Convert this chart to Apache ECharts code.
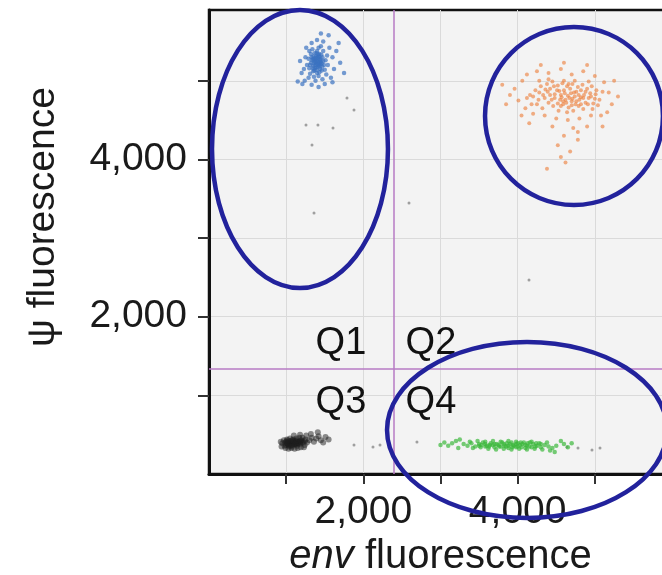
<!DOCTYPE html>
<html>
<head>
<meta charset="utf-8">
<script src="https://cdn.jsdelivr.net/npm/echarts@6/dist/echarts.min.js"></script>
<style>
  html, body { margin: 0; padding: 0; background: #fff; }
  #chart { width: 662px; height: 575px; }
</style>
</head>
<body>
<div id="chart"></div>
<script>
// droplet clusters, [env, psi]
const q1Blue = [
  [1330,5300],[1360,5260],[1390,5310],[1420,5280],[1450,5240],[1380,5200],[1410,5180],[1440,5150],[1350,5190],[1320,5230],
  [1370,5350],[1400,5380],[1430,5340],[1470,5300],[1490,5200],[1460,5130],[1400,5100],[1350,5120],[1300,5160],[1290,5280],
  [1340,5400],[1420,5420],[1480,5380],[1510,5260],[1500,5140],[1420,5060],[1360,5050],[1310,5090],[1270,5200],[1380,5270],
  [1410,5240],[1440,5210],[1370,5160],[1395,5140],[1430,5110],[1465,5180],[1335,5260],[1355,5310],[1415,5330],[1445,5280],
  [1385,5230],[1320,5340],[1300,5380],[1450,5440],[1530,5320],[1540,5200],[1520,5080],[1470,5020],[1380,5000],[1290,5040],
  [1400,5250],[1420,5200],[1380,5290],[1360,5220],[1440,5260],[1410,5300],[1390,5170],[1430,5230],[1350,5280],[1460,5220],
  [1375,5240],[1405,5210],[1425,5310],[1345,5160],[1455,5330],[1480,5250],[1310,5200],[1395,5350],[1435,5180],[1365,5130],
  [1250,5300],[1230,5150],[1260,5420],[1330,5480],[1400,5520],[1480,5500],[1560,5420],[1600,5300],[1620,5150],[1580,5040],
  [1500,4960],[1420,4920],[1330,4950],[1240,5000],[1200,5100],[1650,5380],[1700,5230],[1680,5480],[1550,5580],[1450,5600],
  [1180,5250],[1150,4990],[1600,4980],[1750,5100],[1210,4960]
];
const q2Orange = [
  [4200,4800],[4280,4850],[4350,4780],[4420,4900],[4480,4830],[4550,4760],[4600,4880],[4650,4810],[4700,4740],[4760,4860],
  [4820,4790],[4880,4720],[4940,4840],[5000,4770],[5040,4690],[4250,4700],[4320,4650],[4400,4720],[4460,4680],[4530,4620],
  [4590,4700],[4660,4660],[4720,4620],[4790,4680],[4850,4640],[4910,4700],[4970,4640],[4300,4930],[4380,4960],[4450,4990],
  [4520,4940],[4580,4970],[4640,4930],[4710,4960],[4780,4920],[4840,4950],[4900,4900],[4960,4930],[5020,4880],[4230,4880],
  [4330,4820],[4440,4760],[4510,4880],[4620,4760],[4680,4900],[4740,4800],[4800,4760],[4860,4820],[4920,4780],[4980,4710],
  [4560,4820],[4690,4840],[4750,4700],[4820,4880],[4470,4930],[4390,4860],[4270,4760],[4160,4820],[4640,4600],[4560,4680],
  [4570,4790],[4610,4840],[4670,4780],[4730,4850],[4790,4820],[4850,4780],[4710,4770],[4630,4720],[4540,4870],[4480,4780],
  [4420,4820],[4360,4890],[4880,4860],[4950,4800],[5010,4830],[4760,4740],[4820,4700],[4700,4690],[4590,4740],[4520,4710],
  [4660,4960],[4600,5000],[4740,5000],[4920,4990],[4400,5020],[4280,5000],[5060,4760],[5100,4860],[4180,4700],[4120,4780],
  [3960,4900],[4010,4750],[4060,5000],[4100,4650],[3900,4820],[3850,4700],[4120,5080],[4250,5120],[4400,5100],[4560,5150],
  [4700,5080],[4850,5120],[5000,5060],[5120,4980],[5180,4850],[5220,4700],[5160,4600],[5300,4800],[5080,4560],[4950,4560],
  [4800,4520],[4650,4500],[4500,4520],[4350,4560],[4200,4580],[4050,4560],[4600,5230],[4300,5200],[4900,5200],[5250,5000],
  [3800,4950],[4150,4460],[4450,4420],[4720,4400],[4900,4420],[4600,4300],[4780,4250],[4520,4180],[4680,4100],[4560,4030],
  [4620,3960],[4380,3880],[4780,4350],[5100,4420]
];
const q3Black = [
  [950,390],[980,360],[1000,410],[1020,380],[1040,350],[1060,400],[1080,370],[1100,420],[1120,390],[1140,360],
  [1160,410],[1180,380],[1200,430],[1220,400],[1240,370],[970,430],[1010,440],[1050,450],[1090,440],[1130,450],
  [1170,460],[1210,460],[1250,440],[990,330],[1030,320],[1070,330],[1110,320],[1150,330],[1190,340],[1230,340],
  [1270,400],[1300,430],[1330,460],[1360,410],[1390,450],[1420,480],[1450,430],[1480,400],[1510,470],[1550,440],
  [1260,490],[1180,500],[1100,490],[1320,510],[1410,530],[940,350],[930,410],[1000,370],[1060,370],[1120,420],
  [1180,410],[1050,390],[1090,390],[1130,380],[1030,410],[1150,390],
  [1040,395],[1070,385],[1100,400],[1130,400],[1060,420],[1010,395],[1090,410],[1120,375],[1150,405],[1080,430],
  [1030,370],[1110,385],[990,400],[1170,390],[1200,400],[1070,350],[1140,430],[1020,425],[1190,425],[1240,420]
];
const q4Green = [
  [3300,380],[3350,360],[3400,390],[3450,350],[3500,380],[3550,400],[3600,360],[3650,390],[3700,340],[3750,370],
  [3800,400],[3850,350],[3900,380],[3950,360],[4000,390],[4050,340],[4100,370],[4150,350],[4200,380],[4250,360],
  [4300,340],[4350,370],[4400,350],[4450,330],[4500,360],[3380,410],[3480,420],[3580,410],[3680,420],[3780,410],
  [3880,420],[3980,410],[4080,400],[4180,410],[4280,390],[4380,400],[3420,330],[3520,340],[3620,320],[3720,310],
  [3820,320],[3920,310],[4020,320],[4120,310],[4220,320],[4320,310],[4420,300],[3530,370],[3630,350],[3730,380],
  [3830,360],[3930,340],[4030,370],[4130,390],[4230,350],[3580,380],[3680,370],[3780,350],[3880,330],[3980,380],
  [3700,380],[3760,350],[3820,380],[3880,360],[3940,370],[4000,350],[4060,380],[4120,360],[4180,340],[3640,370],
  [3580,350],[3860,390],[3920,400],[3980,340],[4040,400],[4100,330],[4160,400],[4240,390],[4300,380],[3500,360],
  [3150,390],[3200,420],[3100,360],[3050,400],[3250,440],[4600,380],[4650,340],[4700,390],[4560,420],[4480,280],
  [3000,370],[3230,330]
];
const strays = [
  [1788,4781],[1879,4629],[1257,4438],[1412,4438],[1607,4400],[1335,4184],[1361,3319],[2592,3446],[4147,2467],
  [1879,369],[2125,343],[2216,369],[2695,407],[4639,343],[4782,331],[4963,305],[5067,331]
];

// gate thresholds
const envGate = 2400;
const psiGate = 1340;

// quadrant labels [env, psi, text]
const quadLabels = [[1710,1654,'Q1'],[2876,1654,'Q2'],[1710,903,'Q3'],[2876,903,'Q4']];

// hand-drawn rings [cx, cy, rx, ry] in data units
const rings = [[1179,4133,1140,1768],[4730,4552,1153,1132],[4121,560,1814,1119]];

const xTicks = [1000, 2000, 3000, 4000, 5000];
const yTicks = [1000, 2000, 3000, 4000, 5000];
const xTickLabels = [2000, 4000];
const yTickLabels = [2000, 4000];

const font = 'Liberation Sans, Arial, Helvetica, sans-serif';
const chart = echarts.init(document.getElementById('chart'));

function dots(name, data, color, size, opacity) {
  return {
    name, type: 'scatter', data, symbolSize: size, z: 3,
    itemStyle: { color, opacity },
    silent: true
  };
}

const option = {
  animation: false,
  textStyle: { fontFamily: font },
  grid: {
    left: 209, right: -10, top: 10, bottom: 101,
    outerBoundsMode: 'none', containLabel: false,
    show: true, backgroundColor: '#f3f3f3', borderColor: '#111', borderWidth: 2.5
  },
  xAxis: {
    type: 'value', min: 0, max: 6000, interval: 1000,
    name: '{i|env} fluorescence', nameLocation: 'middle', nameGap: 60,
    nameTextStyle: {
      fontSize: 40, color: '#1a1a1a', fontFamily: font,
      rich: { i: { fontStyle: 'italic', fontSize: 40, color: '#1a1a1a', fontFamily: font } }
    },
    axisLine: { show: true, lineStyle: { color: '#111', width: 3 } },
    axisTick: { show: true, length: 10, customValues: xTicks, lineStyle: { color: '#333', width: 2 } },
    axisLabel: {
      fontSize: 39, color: '#1a1a1a', margin: 19, customValues: xTickLabels,
      formatter: v => v.toLocaleString('en-US')
    },
    splitLine: { show: true, lineStyle: { color: '#dadada', width: 1 } }
  },
  yAxis: {
    type: 'value', min: 0, max: 5900, interval: 1000,
    name: 'ψ fluorescence', nameLocation: 'middle', nameGap: 146,
    nameTextStyle: { fontSize: 39, color: '#1a1a1a', fontFamily: font, padding: [0, 0, 0, 50] },
    axisLine: { show: true, lineStyle: { color: '#111', width: 3 } },
    axisTick: { show: true, length: 11, customValues: yTicks, lineStyle: { color: '#333', width: 2 } },
    axisLabel: {
      fontSize: 39, color: '#1a1a1a', margin: 22, customValues: yTickLabels,
      formatter: v => v.toLocaleString('en-US')
    },
    splitLine: { show: true, lineStyle: { color: '#dadada', width: 1 } }
  },
  series: [
    dots('strays', strays, '#8a8a8a', 3, 0.8),
    dots('Q1', q1Blue, '#3a72c0', 4.5, 0.7),
    dots('Q2', q2Orange, '#ec7b36', 4, 0.6),
    dots('Q3', q3Black, '#1e1e1e', 6, 0.5),
    {
      ...dots('Q4', q4Green, '#3cb83c', 4.5, 0.7),
      markLine: {
        silent: true, symbol: 'none', label: { show: false },
        lineStyle: { color: '#b77bc4', width: 1.5, type: 'solid' },
        data: [{ xAxis: envGate }, { yAxis: psiGate }]
      }
    },
    {
      name: 'quadrants', type: 'scatter', symbolSize: 0, z: 4, silent: true,
      itemStyle: { opacity: 1 },
      data: quadLabels.map(q => ({ value: [q[0], q[1]], name: q[2] })),
      label: {
        show: true, position: 'inside', formatter: p => p.name,
        fontSize: 38, color: '#111', fontFamily: font
      }
    },
    {
      name: 'rings', type: 'custom', z: 5, silent: true, clip: false,
      data: rings,
      renderItem: (params, api) => {
        const c = api.coord([api.value(0), api.value(1)]);
        const s = api.size([api.value(2), api.value(3)]);
        return {
          type: 'ellipse',
          shape: { cx: c[0], cy: c[1], rx: s[0], ry: s[1] },
          style: { fill: null, stroke: '#22229c', lineWidth: 4.5 }
        };
      }
    }
  ]
};

chart.setOption(option);
</script>
</body>
</html>
